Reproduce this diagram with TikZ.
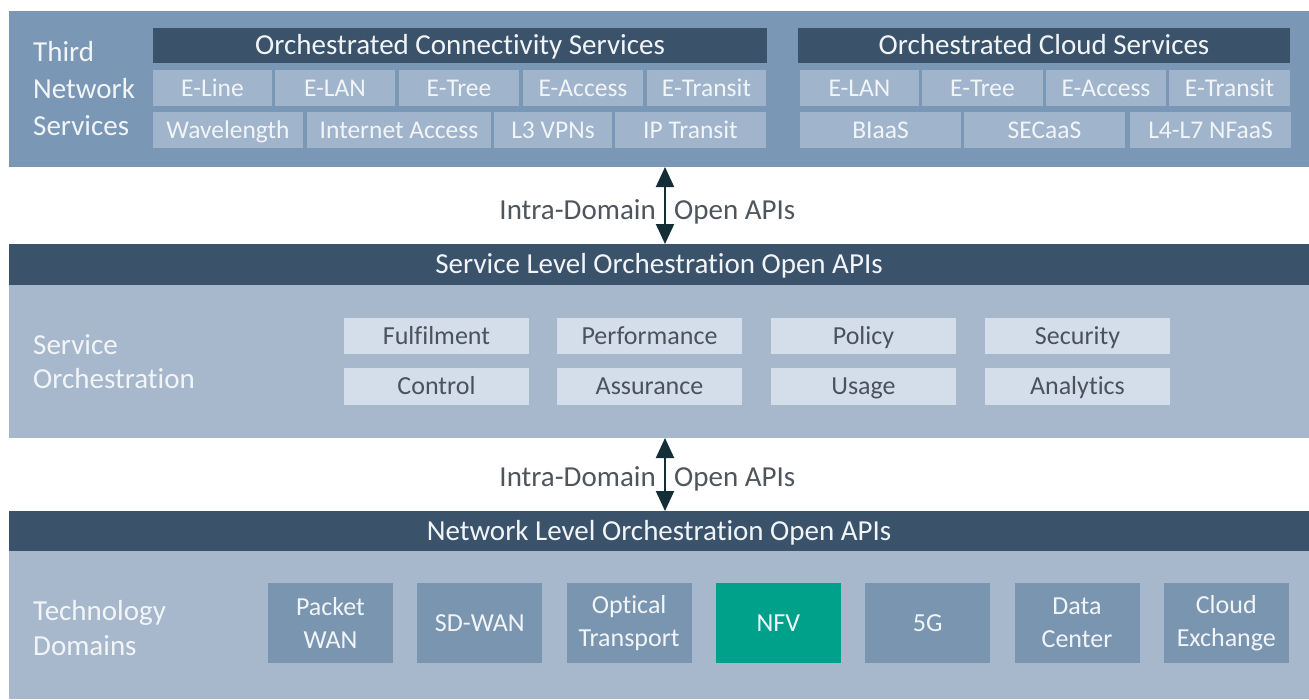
\documentclass[tikz,border=0pt]{standalone}
\usepackage{fontspec}
\setmainfont{Carlito}[Ligatures=NoCommon]
\usetikzlibrary{arrows.meta}

\definecolor{topblue}{HTML}{7A97B5}
\definecolor{headdark}{HTML}{3B526B}
\definecolor{tnsfill}{HTML}{A0B4CB}
\definecolor{midpanel}{HTML}{A8B8CC}
\definecolor{svcfill}{HTML}{D4DEEA}
\definecolor{svctext}{HTML}{4A525C}
\definecolor{domfill}{HTML}{7A95B0}
\definecolor{nfvgreen}{HTML}{00A18A}
\definecolor{arrowdark}{HTML}{142E38}
\definecolor{apigray}{HTML}{4E555D}
\definecolor{lighttext}{HTML}{F2F5F8}

\begin{document}
\begin{tikzpicture}[x=1pt, y=-1pt,
  panelBg/.style={inner sep=0pt, outer sep=0pt, minimum width=1300pt},
  hdrBar/.style={fill=headdark, inner sep=0pt, outer sep=0pt, text=lighttext,
    font=\fontsize{29}{34}\selectfont, text height=18.5pt, text depth=0pt},
  tnsBox/.style={fill=tnsfill, inner sep=0pt, outer sep=0pt, text=lighttext,
    font=\fontsize{25.5}{30}\selectfont, text height=16.4pt, text depth=0pt,
    minimum height=36pt},
  svcBox/.style={fill=svcfill, inner sep=0pt, outer sep=0pt, text=svctext,
    font=\fontsize{26}{30}\selectfont, text height=16.7pt, text depth=0pt,
    minimum width=185pt, minimum height=36.5pt},
  domBox/.style={fill=domfill, inner sep=0pt, outer sep=0pt, text=lighttext,
    align=center, font=\fontsize{26}{33}\selectfont,
    minimum width=125pt, minimum height=80pt},
  % multi-line side titles: anchored on the baseline of their last line
  sideLabel/.style={text=lighttext, inner sep=0pt, align=left, anchor=base west},
  apiText/.style={text=apigray, inner sep=0pt, font=\fontsize{29}{34}\selectfont},
  apiArrow/.style={draw=arrowdark, line width=2pt,
    {Triangle[width=18pt,length=20pt]}-{Triangle[width=18pt,length=20pt]}}
]
\useasboundingbox (0,0) rectangle (1309,699);
\fill[white] (0,0) rectangle (1309,699);

% ---------- background bands ----------
\node[panelBg, fill=topblue,  minimum height=156pt] (toppanel) at (659,89) {};
\node[panelBg, fill=midpanel, minimum height=153pt] (svcpanel) at (659,361.5) {};
\node[panelBg, fill=midpanel, minimum height=148pt] (netpanel) at (659,625) {};
\node[hdrBar, minimum width=1300pt, minimum height=41pt] (svcbar) at (659,264.5)
  {Service Level Orchestration Open APIs};
\node[hdrBar, minimum width=1300pt, minimum height=40pt] (netbar) at (659,531)
  {Network Level Orchestration Open APIs};

% ---------- third network services ----------
\node[sideLabel, font=\fontsize{29}{37}\selectfont] (tnslabel) at (33,135)
  {Third\\Network\\Services};

\node[hdrBar, minimum width=614pt, minimum height=35pt] (connhdr) at (460,45.5)
  {Orchestrated Connectivity Services};
\node[tnsBox, minimum width=119pt] (celine)   at (212.5,88) {E-Line};
\node[tnsBox, minimum width=120pt] (celan)    at (335,88)   {E-LAN};
\node[tnsBox, minimum width=120pt] (cetree)   at (459,88)   {E-Tree};
\node[tnsBox, minimum width=120pt] (ceaccess) at (583,88)   {E-Access};
\node[tnsBox, minimum width=119pt] (cetrans)  at (706.5,88) {E-Transit};
\node[tnsBox, minimum width=150pt] (cwave)    at (228,130)  {Wavelength};
\node[tnsBox, minimum width=184pt] (cinet)    at (399,130)  {Internet Access};
\node[tnsBox, minimum width=118pt] (cl3vpn)   at (553,130)  {L3 VPNs};
\node[tnsBox, minimum width=151pt] (ciptrans) at (690.5,130){IP Transit};

\node[hdrBar, minimum width=492pt, minimum height=35pt] (cloudhdr) at (1044,45.5)
  {Orchestrated Cloud Services};
\node[tnsBox, minimum width=119pt] (kelan)    at (859.5,88)  {E-LAN};
\node[tnsBox, minimum width=121pt] (ketree)   at (982.5,88)  {E-Tree};
\node[tnsBox, minimum width=120pt] (keaccess) at (1106,88)   {E-Access};
\node[tnsBox, minimum width=121pt] (ketrans)  at (1229.5,88) {E-Transit};
\node[tnsBox, minimum width=161pt] (kbiaas)   at (880.5,130) {BIaaS};
\node[tnsBox, minimum width=161pt] (ksecaas)  at (1044.5,130){SECaaS};
\node[tnsBox, minimum width=161pt] (knfaas)   at (1210.5,130){L4-L7 NFaaS};

% ---------- service orchestration ----------
\node[sideLabel, font=\fontsize{29}{34}\selectfont] (svclabel) at (33,388)
  {Service\\Orchestration};
\node[svcBox] (fulfil)  at (436.5,336) {Fulfilment};
\node[svcBox] (perf)    at (649.5,336) {Performance};
\node[svcBox] (policy)  at (863.5,336) {Policy};
\node[svcBox] (secur)   at (1077.5,336){Security};
\node[svcBox] (control) at (436.5,386.5){Control};
\node[svcBox] (assur)   at (649.5,386.5){Assurance};
\node[svcBox] (usage)   at (863.5,386.5){Usage};
\node[svcBox] (analyt)  at (1077.5,386.5){Analytics};

% ---------- technology domains ----------
\node[sideLabel, font=\fontsize{29}{35}\selectfont] (techlabel) at (33,655)
  {Technology\\Domains};
\node[domBox] (pwan)   at (330.5,623)  {Packet\\WAN};
\node[domBox] (sdwan)  at (479.8,623)  {SD-WAN};
\node[domBox] (optic)  at (629.1,623)  {Optical\\Transport};
\node[domBox, fill=nfvgreen] (nfv) at (778.4,623) {NFV};
\node[domBox] (fiveg)  at (927.7,623)  {5G};
\node[domBox] (dcent)  at (1077,623)   {Data\\Center};
\node[domBox] (cex)    at (1226.3,623) {Cloud\\Exchange};

% ---------- intra-domain API arrows ----------
\coordinate (apix) at (665,0);
\draw[apiArrow] (toppanel.south -| apix) -- (svcbar.north -| apix);
\node[apiText, anchor=base east] (intra1) at (656,219) {Intra-Domain};
\node[apiText, anchor=base west] (open1)  at (674,219) {Open APIs};

\draw[apiArrow] (svcpanel.south -| apix) -- (netbar.north -| apix);
\node[apiText, anchor=base east] (intra2) at (656,486) {Intra-Domain};
\node[apiText, anchor=base west] (open2)  at (674,486) {Open APIs};
\end{tikzpicture}
\end{document}
